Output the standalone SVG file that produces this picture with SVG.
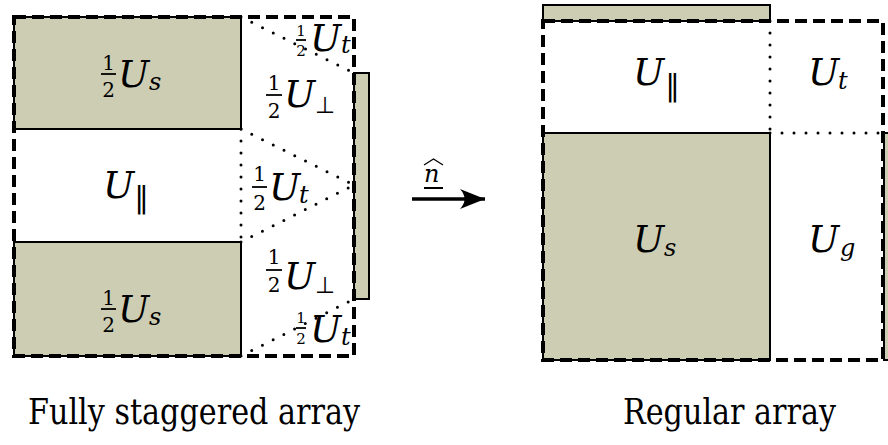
<svg xmlns="http://www.w3.org/2000/svg" width="888" height="445" viewBox="0 0 888 445">
  <defs>
    <marker id="head" markerUnits="userSpaceOnUse" markerWidth="30" markerHeight="24" refX="26" refY="12" orient="auto">
      <path d="M26,12 L1,2 Q10,12 1,22 Z" fill="#000"/>
    </marker>
  </defs>
  <style>
    .fill { fill: #cdcdb3; stroke: #000; stroke-width: 2; }
    .bar { stroke: #000; stroke-width: 1.8; }
    .dash { stroke: #000; stroke-width: 4; fill: none; stroke-dasharray: 12 6; }
    .dot { stroke: #000; stroke-width: 3; fill: none; stroke-dasharray: 0 12; stroke-linecap: round; }
    .U { font-family: 'DejaVu Serif', serif; font-style: italic; font-size: 37px; }
    .sub { font-family: 'DejaVu Serif', serif; font-style: italic; font-size: 24px; }
    .num { font-family: 'DejaVu Serif', serif; font-size: 20px; text-anchor: middle; }
    .snum { font-family: 'DejaVu Serif', serif; font-size: 15px; text-anchor: middle; }
    .par { font-family: 'DejaVu Sans', sans-serif; font-size: 30px; }
    .perp { font-family: 'DejaVu Sans', sans-serif; font-size: 23px; }
    .cap { font-family: 'DejaVu Serif', serif; font-size: 35px; }
  </style>

  <!-- Fully staggered array -->
  <g id="staggered">
    <g id="s-top-solid">
      <rect class="fill" x="14" y="17" width="227" height="112"/>
      <text x="108.5" y="70" class="num">1</text>
      <line class="bar" x1="101" y1="74" x2="116" y2="74"/>
      <text x="108.5" y="97" class="num">2</text>
      <text x="118" y="87" class="U">U</text>
      <text x="149" y="90" class="sub">s</text>
    </g>
    <g id="s-mid-parallel">
      <text x="103" y="198" class="U">U</text>
      <text x="134" y="208" class="par">∥</text>
    </g>
    <g id="s-bottom-solid">
      <rect class="fill" x="14" y="242" width="227" height="114"/>
      <text x="108.5" y="305" class="num">1</text>
      <line class="bar" x1="101" y1="309" x2="116" y2="309"/>
      <text x="108.5" y="332" class="num">2</text>
      <text x="118" y="322" class="U">U</text>
      <text x="149" y="325" class="sub">s</text>
    </g>
    <g id="s-side-strip">
      <rect class="fill" x="354" y="73" width="15" height="226"/>
    </g>
    <g id="s-dividers">
      <line class="dot" x1="241" y1="17" x2="354" y2="73"/>
      <line class="dot" x1="241" y1="129" x2="354" y2="185"/>
      <line class="dot" x1="241" y1="242" x2="354" y2="185"/>
      <line class="dot" x1="241" y1="356" x2="354" y2="299"/>
      <line class="dot" x1="241" y1="129" x2="241" y2="242"/>
    </g>
    <g id="s-cell-outline">
      <rect class="dash" x="14" y="17" width="340" height="339"/>
    </g>
    <g id="s-t-top">
      <text x="301" y="36" class="snum">1</text>
      <line class="bar" x1="296" y1="40" x2="306" y2="40"/>
      <text x="301" y="56" class="snum">2</text>
      <text x="310" y="51" class="U">U</text>
      <text x="341" y="53" class="sub">t</text>
    </g>
    <g id="s-perp-top">
      <text x="274" y="90" class="num">1</text>
      <line class="bar" x1="266" y1="95" x2="282" y2="95"/>
      <text x="274" y="118" class="num">2</text>
      <text x="284" y="107" class="U">U</text>
      <text x="315" y="113" class="perp">⊥</text>
    </g>
    <g id="s-t-mid">
      <text x="259.5" y="181" class="num">1</text>
      <line class="bar" x1="252" y1="187" x2="267" y2="187"/>
      <text x="259.5" y="210" class="num">2</text>
      <text x="269" y="200" class="U">U</text>
      <text x="299" y="203" class="sub">t</text>
    </g>
    <g id="s-perp-bottom">
      <text x="274" y="264" class="num">1</text>
      <line class="bar" x1="266" y1="270" x2="282" y2="270"/>
      <text x="274" y="292" class="num">2</text>
      <text x="284" y="289" class="U">U</text>
      <text x="315" y="293" class="perp">⊥</text>
    </g>
    <g id="s-t-bottom">
      <text x="301" y="323" class="snum">1</text>
      <line class="bar" x1="296" y1="328" x2="306" y2="328"/>
      <text x="301" y="344" class="snum">2</text>
      <text x="310" y="342" class="U">U</text>
      <text x="341" y="345" class="sub">t</text>
    </g>
    <text x="28" y="424" class="cap" textLength="332" lengthAdjust="spacingAndGlyphs">Fully staggered array</text>
  </g>

  <!-- Regular array -->
  <g id="regular">
    <g id="r-top-strip">
      <rect class="fill" x="543" y="5" width="227" height="16"/>
    </g>
    <g id="r-solid">
      <rect class="fill" x="543" y="133" width="227" height="227"/>
      <text x="633" y="252" class="U">U</text>
      <text x="664" y="256" class="sub">s</text>
    </g>
    <g id="r-edge-strip">
      <rect class="fill" x="884" y="133" width="20" height="227"/>
    </g>
    <g id="r-dividers">
      <line class="dot" x1="770" y1="21" x2="770" y2="133"/>
      <line class="dot" x1="770" y1="133" x2="883" y2="133"/>
    </g>
    <g id="r-cell-outline">
      <rect class="dash" x="543" y="21" width="340" height="339"/>
    </g>
    <g id="r-parallel">
      <text x="633" y="85" class="U">U</text>
      <text x="665" y="96" class="par">∥</text>
    </g>
    <g id="r-t">
      <text x="808" y="85" class="U">U</text>
      <text x="838" y="89" class="sub">t</text>
    </g>
    <g id="r-g">
      <text x="808" y="252" class="U">U</text>
      <text x="840" y="256" class="sub">g</text>
    </g>
    <text x="623" y="424" class="cap" textLength="213" lengthAdjust="spacingAndGlyphs">Regular array</text>
  </g>

  <!-- direction of the normal -->
  <g id="connectors">
    <line x1="412" y1="199" x2="485" y2="199" stroke="#000" stroke-width="3.5" marker-end="url(#head)"/>
    <g id="normal-label">
      <text x="424" y="182" class="sub">n</text>
      <path d="M424,165 L433.5,159 L443,165" fill="none" stroke="#000" stroke-width="1.3"/>
      <line x1="424" y1="188" x2="443" y2="188" stroke="#000" stroke-width="2"/>
    </g>
  </g>
</svg>
